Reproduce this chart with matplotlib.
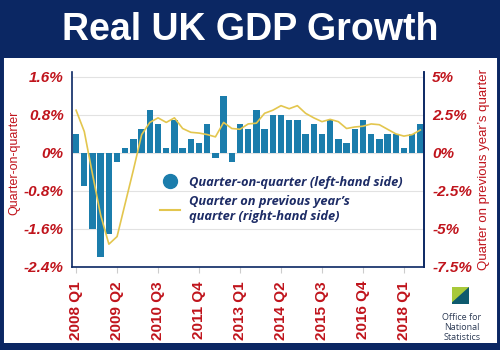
import matplotlib
matplotlib.use("Agg")
import matplotlib.pyplot as plt
from matplotlib.patches import Rectangle, Polygon
from matplotlib.lines import Line2D
import numpy as np

# ---- data ----
quarters = [f"{y} Q{q}" for y in range(2008, 2019) for q in range(1, 5)][:43]
qoq = [0.4, -0.7, -1.6, -2.2, -1.7, -0.2, 0.1, 0.3, 0.5, 0.9, 0.6, 0.1,
       0.7, 0.1, 0.3, 0.2, 0.6, -0.1, 1.2, -0.2, 0.6, 0.5, 0.9, 0.5,
       0.8, 0.8, 0.7, 0.7, 0.4, 0.6, 0.4, 0.7, 0.3, 0.2, 0.5, 0.7,
       0.4, 0.3, 0.4, 0.4, 0.1, 0.4, 0.6]
yoy = [2.8, 1.4, -1.4, -4.1, -6.0, -5.5, -3.3, -1.1, 1.2, 2.0, 2.3, 2.0,
       2.3, 1.6, 1.35, 1.3, 1.2, 1.05, 2.0, 1.6, 1.55, 1.9, 1.95, 2.6,
       2.8, 3.1, 2.9, 3.1, 2.6, 2.3, 2.05, 2.2, 2.05, 1.6, 1.7, 1.75,
       1.9, 1.85, 1.55, 1.25, 1.1, 1.2, 1.5]
left_ticks = [1.6, 0.8, 0, -0.8, -1.6, -2.4]
left_labels = ["1.6%", "0.8%", "0%", "-0.8%", "-1.6%", "-2.4%"]
right_ticks = [5, 2.5, 0, -2.5, -5, -7.5]
right_labels = ["5%", "2.5%", "0%", "-2.5%", "-5%", "-7.5%"]
title = "Real UK GDP Growth"

NAVY = "#0b2763"
RED = "#c0141c"
BAR = "#1b7dac"
LINE = "#e3c64e"
TXT = "#1d2c66"

W, H = 500, 350
fig = plt.figure(figsize=(5, 3.5), dpi=100)
fig.patch.set_facecolor("white")

def fx(px):
    return px / W

def fy(py):
    return 1 - py / H

# frame + title band
fig.add_artist(Rectangle((0, 0), 1, 1, transform=fig.transFigure, facecolor="white",
                         edgecolor=NAVY, linewidth=5, zorder=0))
fig.add_artist(Rectangle((0, fy(58)), 1, 58 / H, transform=fig.transFigure,
                         facecolor=NAVY, edgecolor="none", zorder=1))
fig.add_artist(Rectangle((0, 0), 1, 7 / H, transform=fig.transFigure,
                         facecolor=NAVY, edgecolor="none", zorder=1))
fig.text(0.5, fy(30), title, ha="center", va="center", color="white",
         fontsize=27, fontweight="bold", family="Liberation Sans", zorder=2)

ax = fig.add_axes([fx(72), fy(267), (424 - 72) / W, (267 - 72) / H])
x = np.arange(len(qoq))
ax.bar(x, qoq, width=0.78, color=BAR, zorder=2)
ax.set_xlim(-0.5, 42.45)
ylo, yhi = -2.4, 1.7
ax.set_ylim(ylo, yhi)
ax.set_yticks(left_ticks)
ax.set_yticklabels(left_labels)
ax.grid(axis="y", color="#e2e2e2", linewidth=0.8, zorder=0)
ax.set_axisbelow(True)
ax.set_xticks(x[::5])
ax.set_xticklabels([quarters[i] for i in x[::5]], rotation=90)
for lab in ax.get_xticklabels():
    lab.set_color(RED)
    lab.set_fontweight("bold")
    lab.set_fontsize(11)
    lab.set_family("Liberation Sans")
ax.tick_params(axis="x", length=4, color="#cccccc", pad=6)
ax.tick_params(axis="y", length=0, pad=6)
for lab in ax.get_yticklabels():
    lab.set_color(RED)
    lab.set_fontweight("bold")
    lab.set_fontstyle("italic")
    lab.set_fontsize(11)
    lab.set_family("Liberation Sans")
for s in ["left", "bottom", "right"]:
    ax.spines[s].set_color(NAVY)
    ax.spines[s].set_linewidth(1.2)
ax.spines["top"].set_visible(False)
ax.set_ylabel("Quarter-on-quarter", color=RED, fontsize=9, family="Liberation Sans")
ax.yaxis.set_label_coords(-(72 - 20) / 352, (267 - 163) / 195)

ax2 = ax.twinx()
ax2.plot(x, yoy, color=LINE, linewidth=1.2, zorder=3)
ax2.set_ylim(ylo / 0.32, yhi / 0.32)
ax2.set_yticks(right_ticks)
ax2.set_yticklabels(right_labels)
ax2.tick_params(axis="y", length=0, pad=6)
for lab in ax2.get_yticklabels():
    lab.set_color(RED)
    lab.set_fontweight("bold")
    lab.set_fontstyle("italic")
    lab.set_fontsize(11)
    lab.set_family("Liberation Sans")
for s in ["top", "left", "bottom"]:
    ax2.spines[s].set_visible(False)
ax2.spines["right"].set_color(NAVY)
ax2.spines["right"].set_linewidth(1.2)
ax2.set_ylabel("Quarter on previous year\u2019s quarter", color=RED, fontsize=9.5,
               family="Liberation Sans", labelpad=4)

handles = [Line2D([], [], linestyle="none", marker="o", markersize=10, color=BAR),
           Line2D([], [], color=LINE, linewidth=1.5)]
labels = ["Quarter-on-quarter (left-hand side)",
          "Quarter on previous year\u2019s\nquarter (right-hand side)"]
leg = ax2.legend(handles, labels, loc="upper left",
                 bbox_to_anchor=(fx(148), fy(164)), bbox_transform=fig.transFigure,
                 frameon=False, handlelength=1.6, handletextpad=0.7, labelspacing=0.5,
                 prop={"family": "Open Sans", "weight": "bold", "style": "italic", "size": 9.3})
for t in leg.get_texts():
    t.set_color(TXT)

# ONS logo (decoration)
lx, ly, ls = 452, 287, 17
fig.add_artist(Rectangle((fx(lx), fy(ly + ls)), ls / W, ls / H, transform=fig.transFigure,
                         facecolor="#0e5a6e", edgecolor="none"))
fig.add_artist(Polygon([(fx(lx), fy(ly)), (fx(lx + ls), fy(ly)), (fx(lx), fy(ly + ls * 0.9))],
                       closed=True, transform=fig.transFigure, facecolor="#a8c93a",
                       edgecolor="none"))
fig.text(fx(462), fy(317), "Office for", ha="center", va="center", fontsize=6.5,
         color="#2d3b55", family="Open Sans")
fig.text(fx(462), fy(327), "National", ha="center", va="center", fontsize=6.5,
         color="#2d3b55", family="Open Sans")
fig.text(fx(462), fy(337), "Statistics", ha="center", va="center", fontsize=6.5,
         color="#2d3b55", family="Open Sans")

fig.savefig("out.png", dpi=100)
